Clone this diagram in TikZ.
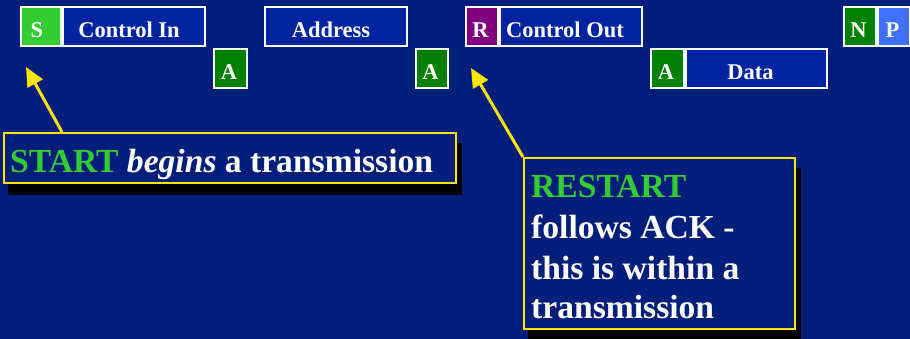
\documentclass[tikz,border=0pt]{standalone}
\usepackage{fontspec}
\setmainfont{Liberation Serif}
\usetikzlibrary{arrows.meta,calc}

\definecolor{navy}{RGB}{0,30,122}
\definecolor{fieldblue}{RGB}{0,36,160}
\definecolor{startgreen}{RGB}{51,204,51}
\definecolor{ackgreen}{RGB}{0,128,0}
\definecolor{restartpurple}{RGB}{128,0,128}
\definecolor{stopblue}{RGB}{64,112,255}
\definecolor{calloutyellow}{RGB}{255,230,0}

\tikzset{
  field/.style={draw=white, line width=2pt, fill=fieldblue, inner sep=0pt,
    minimum height=39pt},
  bitbox/.style={field, minimum width=32pt},
  widebox/.style={field, minimum width=142pt},
  fieldtext/.style={anchor=base, text=white, inner sep=0pt,
    font=\fontsize{22.5}{22.5}\selectfont\bfseries},
  callout/.style={draw=calloutyellow, line width=1.8pt, fill=navy, inner sep=0pt},
  shadowbox/.style={fill=black, draw=none, inner sep=0pt},
  callouttext/.style={anchor=base west, text=white, inner sep=0pt,
    font=\fontsize{33.6}{40}\selectfont\bfseries},
  pointer/.style={draw=calloutyellow, line width=3pt,
    -{Triangle[length=19pt,width=17pt]}},
}

\begin{document}
\begin{tikzpicture}[x=1pt,y=-1pt]
  \fill[navy] (0,0) rectangle (910,339);
  \useasboundingbox (0,0) rectangle (910,339);
  \clip (0,0) rectangle (910,339);

  % first frame: START, control byte (in), address
  \node[bitbox, fill=startgreen, minimum width=40pt] (s) at (41,26.5) {};
  \node[widebox] (ctlin) at (134,26.5) {};
  \node[bitbox, fill=ackgreen, minimum width=33pt] (a1) at (230.5,68.5) {};
  \node[widebox] (addr) at (336,26.5) {};
  \node[bitbox, fill=ackgreen] (a2) at (432,68.5) {};

  % repeated start, control byte (out), data
  \node[bitbox, fill=restartpurple] (r) at (482,26.5) {};
  \node[widebox] (ctlout) at (571,26.5) {};
  \node[bitbox, fill=ackgreen, minimum width=33pt] (a3) at (667.5,68.5) {};
  \node[widebox, minimum width=141pt] (data) at (756.5,68.5) {};
  \node[bitbox, fill=ackgreen] (n) at (860,26.5) {};
  \node[bitbox, fill=stopblue] (p) at (894,26.5) {};

  % field labels
  \node[fieldtext] at ($(s)+(-4,11)$) {S};
  \node[fieldtext] at ($(ctlin)+(-5,11)$) {Control In};
  \node[fieldtext] at ($(a1)+(-1.5,11.5)$) {A};
  \node[fieldtext] at ($(addr)+(-5,11)$) {Address};
  \node[fieldtext] at ($(a2)+(-1.5,11.5)$) {A};
  \node[fieldtext] at ($(r)+(-1.5,11)$) {R};
  \node[fieldtext] at ($(ctlout)+(-6,11)$) {Control Out};
  \node[fieldtext] at ($(a3)+(-1.5,11.5)$) {A};
  \node[fieldtext] at ($(data)+(-6,11.5)$) {Data};
  \node[fieldtext] at ($(n)+(-1.5,11)$) {N};
  \node[fieldtext] at ($(p)+(-1.5,11)$) {P};

  % callout: START
  \node[shadowbox, minimum width=454pt, minimum height=52pt] at (235,169) {};
  \node[callout, minimum width=452pt, minimum height=50pt] (c1) at (230,158) {};
  \node[callouttext] at (10,173)
    {\textcolor{startgreen}{START} \textit{begins} a transmission};
  \coordinate (c1tail) at (62,132);
  \coordinate (c1tip) at (26,67);
  \draw[pointer] (c1tail) -- (c1tip);

  % callout: RESTART
  \node[shadowbox, minimum width=273pt, minimum height=173pt] at (664.5,254.5) {};
  \node[callout, minimum width=271pt, minimum height=171pt] (c2) at (659.5,243.5) {};
  \node[callouttext] at (531,198) {\textcolor{startgreen}{RESTART}};
  \node[callouttext] at (531,239) {follows ACK -};
  \node[callouttext] at (531,279) {this is within a};
  \node[callouttext] at (531,318) {transmission};
  \coordinate (c2tail) at (523,157);
  \coordinate (c2tip) at (471,68);
  \draw[pointer] (c2tail) -- (c2tip);
\end{tikzpicture}
\end{document}
